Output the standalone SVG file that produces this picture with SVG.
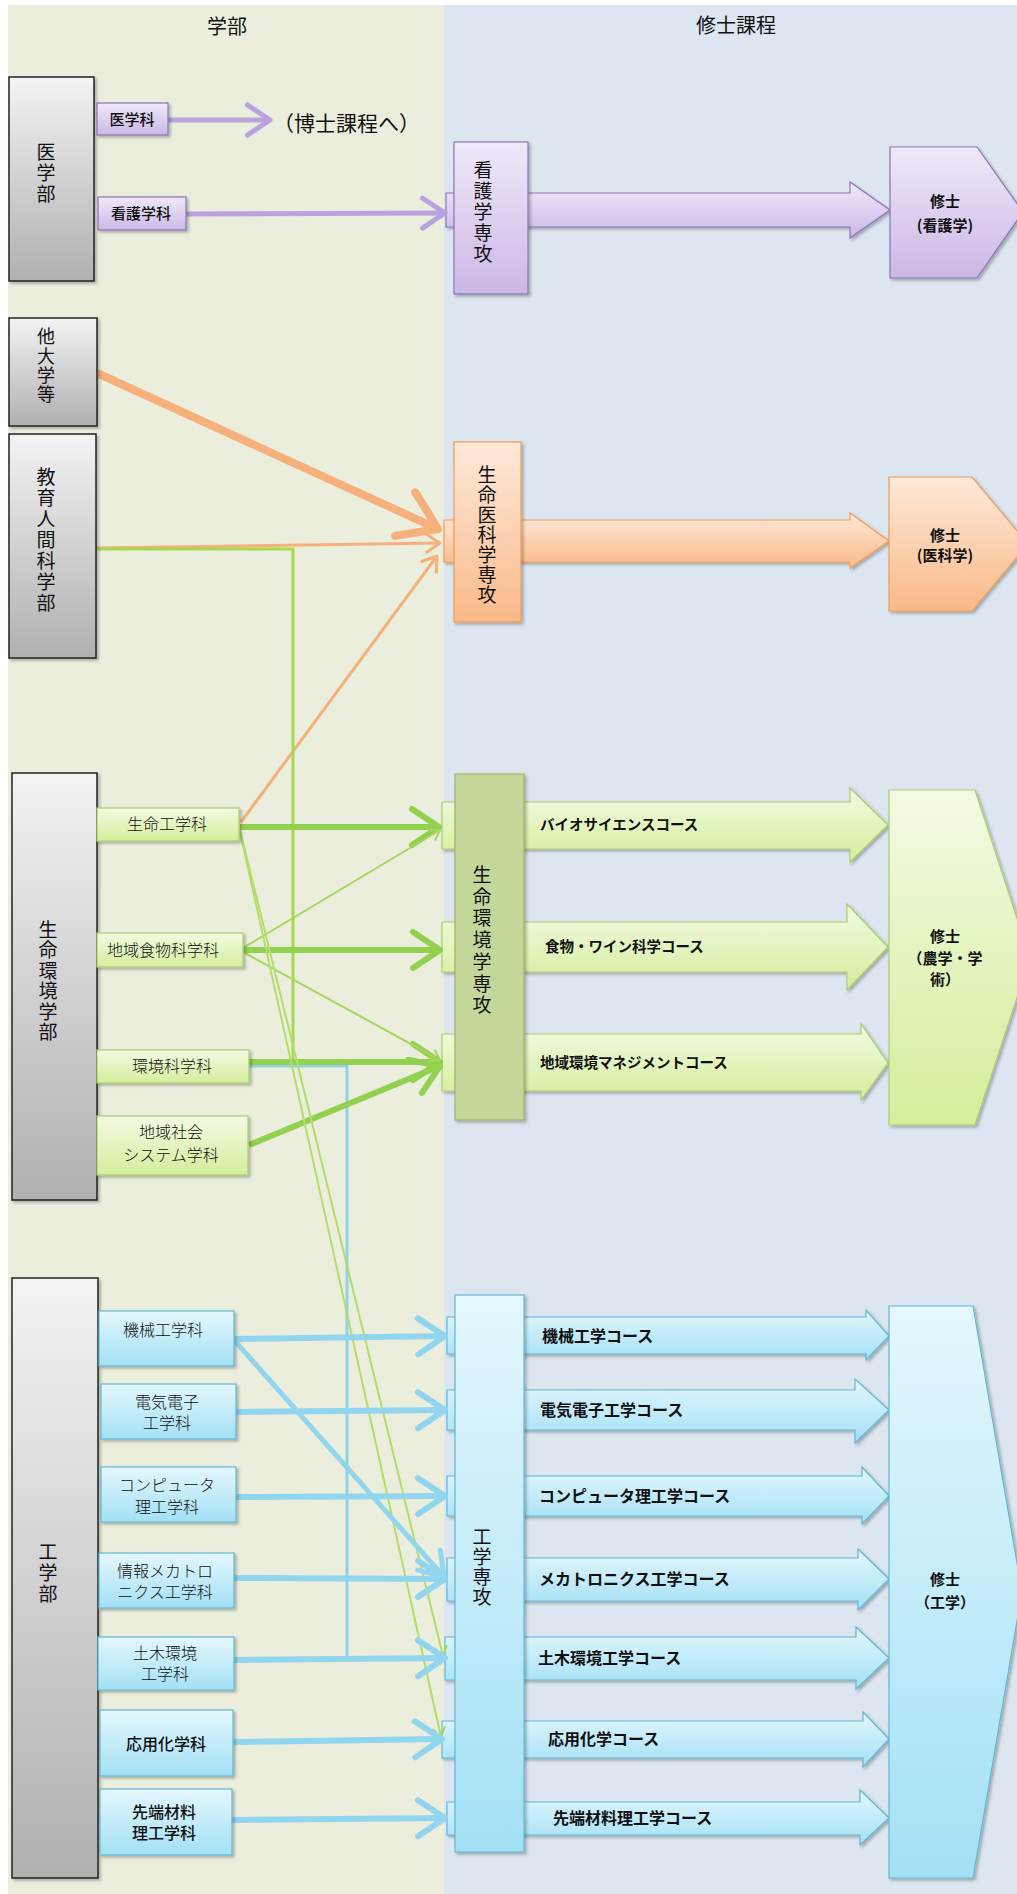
<svg xmlns="http://www.w3.org/2000/svg" width="1017" height="1894" viewBox="0 0 1017 1894">
<style>
text{font-family:'Noto Sans CJK JP','Noto Sans',sans-serif;fill:#111}
.hd{font-size:20px;text-anchor:middle}
.vt{font-size:19px;text-anchor:middle}
.dp{font-size:16px;text-anchor:middle;font-weight:300}
.dpb{font-size:16px;text-anchor:middle;font-weight:500}
.cg{font-size:14.5px;font-weight:bold}
.cb{font-size:16px;font-weight:bold}
.ms{font-size:15px;font-weight:bold;text-anchor:middle}
.gray{fill:url(#gGray);stroke:#222;stroke-width:1.5}
.pur{fill:url(#gPur);stroke:#8c73b5;stroke-width:1.2}
.ora{fill:url(#gOra);stroke:#f29b55;stroke-width:1.2}
.grn{fill:url(#gGrn);stroke:#a9cf6c;stroke-width:1.2}
.blu{fill:url(#gBlu);stroke:#5fb8d4;stroke-width:1.2}
.sh{filter:url(#sh)}
.ln{fill:none;stroke-linecap:butt}
</style>
<defs>
<filter id="sh" x="-10%" y="-10%" width="130%" height="130%"><feDropShadow dx="2" dy="2" stdDeviation="1.5" flood-color="#000" flood-opacity="0.28"/></filter>
<linearGradient id="gGray" x1="0" y1="0" x2="0" y2="1"><stop offset="0" stop-color="#f3f3f3"/><stop offset="1" stop-color="#b0b0b0"/></linearGradient>
<linearGradient id="gPur" x1="0" y1="0" x2="0" y2="1"><stop offset="0" stop-color="#f0e9f9"/><stop offset="1" stop-color="#cbb7e6"/></linearGradient>
<linearGradient id="gOra" x1="0" y1="0" x2="0" y2="1"><stop offset="0" stop-color="#fee9da"/><stop offset="1" stop-color="#f9b988"/></linearGradient>
<linearGradient id="gGrn" x1="0" y1="0" x2="0" y2="1"><stop offset="0" stop-color="#f3fae3"/><stop offset="1" stop-color="#d3ee9c"/></linearGradient>
<linearGradient id="gBlu" x1="0" y1="0" x2="0" y2="1"><stop offset="0" stop-color="#e4f7fd"/><stop offset="1" stop-color="#a3e0f5"/></linearGradient>
<marker id="mP" markerUnits="strokeWidth" viewBox="-6 -4 7 8" markerWidth="7" markerHeight="8" refX="0" refY="0" orient="auto" overflow="visible"><path d="M-4.5,-3 L0,0 L-4.5,3" fill="none" stroke="#b9a2de" stroke-width="1" stroke-linecap="round" stroke-linejoin="round"/></marker>
<marker id="mO" markerUnits="strokeWidth" viewBox="-6 -4 7 8" markerWidth="7" markerHeight="8" refX="0" refY="0" orient="auto" overflow="visible"><path d="M-4.5,-3 L0,0 L-4.5,3" fill="none" stroke="#f5b07c" stroke-width="1" stroke-linecap="round" stroke-linejoin="round"/></marker>
<marker id="mG" markerUnits="strokeWidth" viewBox="-6 -4 7 8" markerWidth="7" markerHeight="8" refX="0" refY="0" orient="auto" overflow="visible"><path d="M-4.5,-3 L0,0 L-4.5,3" fill="none" stroke="#92d050" stroke-width="1" stroke-linecap="round" stroke-linejoin="round"/></marker>
<marker id="mGt" markerUnits="strokeWidth" viewBox="-6 -4 7 8" markerWidth="7" markerHeight="8" refX="0" refY="0" orient="auto" overflow="visible"><path d="M-4.5,-3 L0,0 L-4.5,3" fill="none" stroke="#a8d55f" stroke-width="1" stroke-linecap="round" stroke-linejoin="round"/></marker>
<marker id="mB" markerUnits="strokeWidth" viewBox="-6 -4 7 8" markerWidth="7" markerHeight="8" refX="0" refY="0" orient="auto" overflow="visible"><path d="M-4.5,-3 L0,0 L-4.5,3" fill="none" stroke="#92d5ee" stroke-width="1" stroke-linecap="round" stroke-linejoin="round"/></marker>
</defs>

<g id="background">
<rect x="0" y="0" width="1017" height="1894" fill="#ffffff"/>
<rect x="8" y="5" width="436" height="1889" fill="#ebeedd"/>
<rect x="444" y="5" width="573" height="1889" fill="#dce6f0"/>
<text class="hd" x="227" y="34">学部</text>
<text class="hd" x="736" y="33">修士課程</text>
</g>

<g id="course-arrows">
<polygon id="arrow-kango" class="pur sh" points="446,193 850,193 850,182 890,210 850,238 850,227 446,227"/>
<polygon id="arrow-ikagaku" class="ora sh" points="444,520 850,520 850,513 889,541 850,568 850,562 444,562"/>
<g id="course-bio"><polygon class="grn sh" points="442,802 850,802 850,788 888,825 850,862 850,849 442,849"/><text class="cg" x="540" y="830">バイオサイエンスコース</text></g>
<g id="course-food"><polygon class="grn sh" points="442,922 847,922 847,904 888,947 847,990 847,972 442,972"/><text class="cg" x="545" y="952">食物・ワイン科学コース</text></g>
<g id="course-env"><polygon class="grn sh" points="442,1034 861,1034 861,1024 888,1063 861,1100 861,1091 442,1091"/><text class="cg" x="540" y="1068">地域環境マネジメントコース</text></g>
<g id="course-kikai"><polygon class="blu sh" points="447,1317 866,1317 866,1310 889,1336 866,1360 866,1354 447,1354"/><text class="cb" x="542" y="1342">機械工学コース</text></g>
<g id="course-denki"><polygon class="blu sh" points="447,1390 855,1390 855,1379 889,1410 855,1443 855,1430 447,1430"/><text class="cb" x="540" y="1416">電気電子工学コース</text></g>
<g id="course-comp"><polygon class="blu sh" points="447,1476 862,1476 862,1467 889,1496 862,1524 862,1516 447,1516"/><text class="cb" x="539" y="1502">コンピュータ理工学コース</text></g>
<g id="course-meca"><polygon class="blu sh" points="447,1558 858,1558 858,1549 889,1579 858,1610 858,1601 447,1601"/><text class="cb" x="539" y="1585">メカトロニクス工学コース</text></g>
<g id="course-doboku"><polygon class="blu sh" points="445,1637 856,1637 856,1627 889,1658 856,1689 856,1680 445,1680"/><text class="cb" x="538" y="1664">土木環境工学コース</text></g>
<g id="course-ouyou"><polygon class="blu sh" points="442,1721 863,1721 863,1712 889,1739 863,1767 863,1758 442,1758"/><text class="cb" x="548" y="1745">応用化学コース</text></g>
<g id="course-sentan"><polygon class="blu sh" points="447,1802 860,1802 860,1790 889,1818 860,1845 860,1835 447,1835"/><text class="cb" x="553" y="1824">先端材料理工学コース</text></g>
</g>

<g id="connectors">
<path class="ln" d="M168,120 L270,120" stroke="#b9a2de" stroke-width="5" marker-end="url(#mP)"/>
<path class="ln" d="M186,214 L445,213" stroke="#b9a2de" stroke-width="5" marker-end="url(#mP)"/>
<path class="ln" d="M97,373 L438,529" stroke="#f5b07c" stroke-width="8" marker-end="url(#mO)"/>
<path class="ln" d="M97,548 L440,543" stroke="#f5b07c" stroke-width="3" marker-end="url(#mO)"/>
<path class="ln" d="M241,822 L437,556" stroke="#f5b07c" stroke-width="3" marker-end="url(#mO)"/>
<path class="ln" d="M97,549 H293 V1062" stroke="#a6d94f" stroke-width="3"/>
<path class="ln" d="M249,1066 H347 V1658" stroke="#8fd3ea" stroke-width="3"/>
<path class="ln" d="M240,827 L439,827" stroke="#92d050" stroke-width="6" marker-end="url(#mG)"/>
<path class="ln" d="M243,950 L440,950" stroke="#92d050" stroke-width="6" marker-end="url(#mG)"/>
<path class="ln" d="M249,1062 L440,1062" stroke="#92d050" stroke-width="6" marker-end="url(#mG)"/>
<path class="ln" d="M249,1145 L440,1066" stroke="#92d050" stroke-width="6" marker-end="url(#mG)"/>
<path class="ln" d="M243,948 L440,830" stroke="#a8d55f" stroke-width="2" marker-end="url(#mGt)"/>
<path class="ln" d="M243,952 L440,1060" stroke="#a8d55f" stroke-width="2" marker-end="url(#mGt)"/>
<path class="ln" d="M240,830 L443,1656" stroke="#b5dc6a" stroke-width="2" marker-end="url(#mGt)"/>
<path class="ln" d="M240,832 L441,1737" stroke="#b5dc6a" stroke-width="2" marker-end="url(#mGt)"/>
<path class="ln" d="M234,1339 L445,1336" stroke="#92d5ee" stroke-width="6" marker-end="url(#mB)"/>
<path class="ln" d="M234,1340 L444,1577" stroke="#92d5ee" stroke-width="5" marker-end="url(#mB)"/>
<path class="ln" d="M236,1412 L445,1410" stroke="#92d5ee" stroke-width="6" marker-end="url(#mB)"/>
<path class="ln" d="M236,1497 L445,1496" stroke="#92d5ee" stroke-width="6" marker-end="url(#mB)"/>
<path class="ln" d="M234,1578 L445,1579" stroke="#92d5ee" stroke-width="6" marker-end="url(#mB)"/>
<path class="ln" d="M234,1660 L445,1658" stroke="#92d5ee" stroke-width="6" marker-end="url(#mB)"/>
<path class="ln" d="M233,1742 L442,1739" stroke="#92d5ee" stroke-width="6" marker-end="url(#mB)"/>
<path class="ln" d="M232,1820 L445,1818" stroke="#92d5ee" stroke-width="6" marker-end="url(#mB)"/>
</g>

<g id="faculty-igakubu"><rect class="gray sh" x="9" y="77" width="85" height="204"/>
<text class="vt" x="46" y="159">医</text><text class="vt" x="46" y="180">学</text><text class="vt" x="46" y="201">部</text></g>
<g id="faculty-tadaigaku"><rect class="gray sh" x="9" y="318" width="88" height="108"/>
<text class="vt" x="46" y="343" style="font-size:18px">他</text><text class="vt" x="46" y="363" style="font-size:18px">大</text><text class="vt" x="46" y="382" style="font-size:18px">学</text><text class="vt" x="46" y="401" style="font-size:18px">等</text></g>
<g id="faculty-kyouiku"><rect class="gray sh" x="9" y="434" width="87" height="224"/>
<text class="vt" x="46" y="484">教</text><text class="vt" x="46" y="505">育</text><text class="vt" x="46" y="526">人</text><text class="vt" x="46" y="547">間</text><text class="vt" x="46" y="568">科</text><text class="vt" x="46" y="589">学</text><text class="vt" x="46" y="610">部</text></g>
<g id="faculty-seimei"><rect class="gray sh" x="12" y="773" width="85" height="427"/>
<text class="vt" x="48" y="937">生</text><text class="vt" x="48" y="957">命</text><text class="vt" x="48" y="978">環</text><text class="vt" x="48" y="998">境</text><text class="vt" x="48" y="1019">学</text><text class="vt" x="48" y="1039">部</text></g>
<g id="faculty-kougaku"><rect class="gray sh" x="12" y="1278" width="86" height="600"/>
<text class="vt" x="48" y="1559">工</text><text class="vt" x="48" y="1580">学</text><text class="vt" x="48" y="1601">部</text></g>

<g id="dept-igakuka"><rect class="pur sh" x="97" y="103" width="71" height="32"/><text class="dpb" style="font-size:15px" x="132" y="125">医学科</text></g>
<g id="dept-kangoka"><rect class="pur sh" x="98" y="197" width="88" height="33"/><text class="dpb" style="font-size:15px" x="141" y="219">看護学科</text></g>
<text x="273" y="131" style="font-size:21px">（博士課程へ）</text>

<g id="dept-seimeikou"><rect class="grn sh" x="97" y="808" width="142" height="33"/><text class="dp" x="167" y="830">生命工学科</text></g>
<g id="dept-shokumotsu"><rect class="grn sh" x="97" y="933" width="146" height="34"/><text class="dp" x="163" y="956">地域食物科学科</text></g>
<g id="dept-kankyou"><rect class="grn sh" x="97" y="1050" width="152" height="33"/><text class="dp" x="172" y="1072">環境科学科</text></g>
<g id="dept-shakai"><rect class="grn sh" x="97" y="1116" width="151" height="59"/><text class="dp" x="171" y="1138">地域社会</text><text class="dp" x="171" y="1161">システム学科</text></g>

<g id="dept-kikai"><rect class="blu sh" x="99" y="1311" width="135" height="55"/><text class="dp" x="163" y="1336">機械工学科</text></g>
<g id="dept-denki"><rect class="blu sh" x="101" y="1384" width="135" height="55"/><text class="dp" x="167" y="1408">電気電子</text><text class="dp" x="167" y="1429">工学科</text></g>
<g id="dept-comp"><rect class="blu sh" x="101" y="1467" width="135" height="55"/><text class="dp" x="167" y="1491">コンピュータ</text><text class="dp" x="167" y="1513">理工学科</text></g>
<g id="dept-meca"><rect class="blu sh" x="99" y="1553" width="135" height="55"/><text class="dp" x="165" y="1577">情報メカトロ</text><text class="dp" x="165" y="1598">ニクス工学科</text></g>
<g id="dept-doboku"><rect class="blu sh" x="98" y="1637" width="136" height="53"/><text class="dp" x="165" y="1659">土木環境</text><text class="dp" x="165" y="1680">工学科</text></g>
<g id="dept-ouyou"><rect class="blu sh" x="100" y="1710" width="133" height="66"/><text class="dpb" x="166" y="1750">応用化学科</text></g>
<g id="dept-sentan"><rect class="blu sh" x="100" y="1789" width="132" height="66"/><text class="dpb" x="164" y="1818">先端材料</text><text class="dpb" x="164" y="1839">理工学科</text></g>

<g id="major-kango"><rect class="pur sh" x="454" y="142" width="74" height="152"/>
<text class="vt" x="483" y="177">看</text><text class="vt" x="483" y="198">護</text><text class="vt" x="483" y="219">学</text><text class="vt" x="483" y="240">専</text><text class="vt" x="483" y="261">攻</text></g>
<g id="major-ikagaku"><rect class="ora sh" x="454" y="442" width="67" height="180"/>
<text class="vt" x="487" y="482">生</text><text class="vt" x="487" y="502">命</text><text class="vt" x="487" y="522">医</text><text class="vt" x="487" y="542">科</text><text class="vt" x="487" y="562">学</text><text class="vt" x="487" y="582">専</text><text class="vt" x="487" y="602">攻</text></g>
<g id="major-seimei"><rect x="455" y="774" width="69" height="346" fill="#c4d79b" stroke="#98b863" stroke-width="1.2" class="sh"/>
<text class="vt" x="482" y="882">生</text><text class="vt" x="482" y="904">命</text><text class="vt" x="482" y="925">環</text><text class="vt" x="482" y="947">境</text><text class="vt" x="482" y="969">学</text><text class="vt" x="482" y="991">専</text><text class="vt" x="482" y="1012">攻</text></g>
<g id="major-kougaku"><rect class="blu sh" x="455" y="1295" width="69" height="557"/>
<text class="vt" x="482" y="1544">工</text><text class="vt" x="482" y="1564">学</text><text class="vt" x="482" y="1584">専</text><text class="vt" x="482" y="1604">攻</text></g>

<g id="degree-kango"><polygon class="pur sh" points="890,147 977,147 1023,212 977,278 890,278"/><text class="ms" x="945" y="207">修士</text><text class="ms" x="945" y="231">(看護学)</text></g>
<g id="degree-ikagaku"><polygon class="ora sh" points="889,477 972,477 1028,544 972,611 889,611"/><text class="ms" x="945" y="541">修士</text><text class="ms" x="945" y="561">(医科学)</text></g>
<g id="degree-nougaku"><polygon class="grn sh" points="889,790 975,790 1030,958 975,1125 889,1125"/><text class="ms" x="945" y="942">修士</text><text class="ms" x="945" y="964">（農学・学</text><text class="ms" x="945" y="985">術）</text></g>
<g id="degree-kougaku"><polygon class="blu sh" points="889,1306 973,1306 1022,1592 973,1878 889,1878"/><text class="ms" x="945" y="1585">修士</text><text class="ms" x="945" y="1608">（工学）</text></g>
</svg>
